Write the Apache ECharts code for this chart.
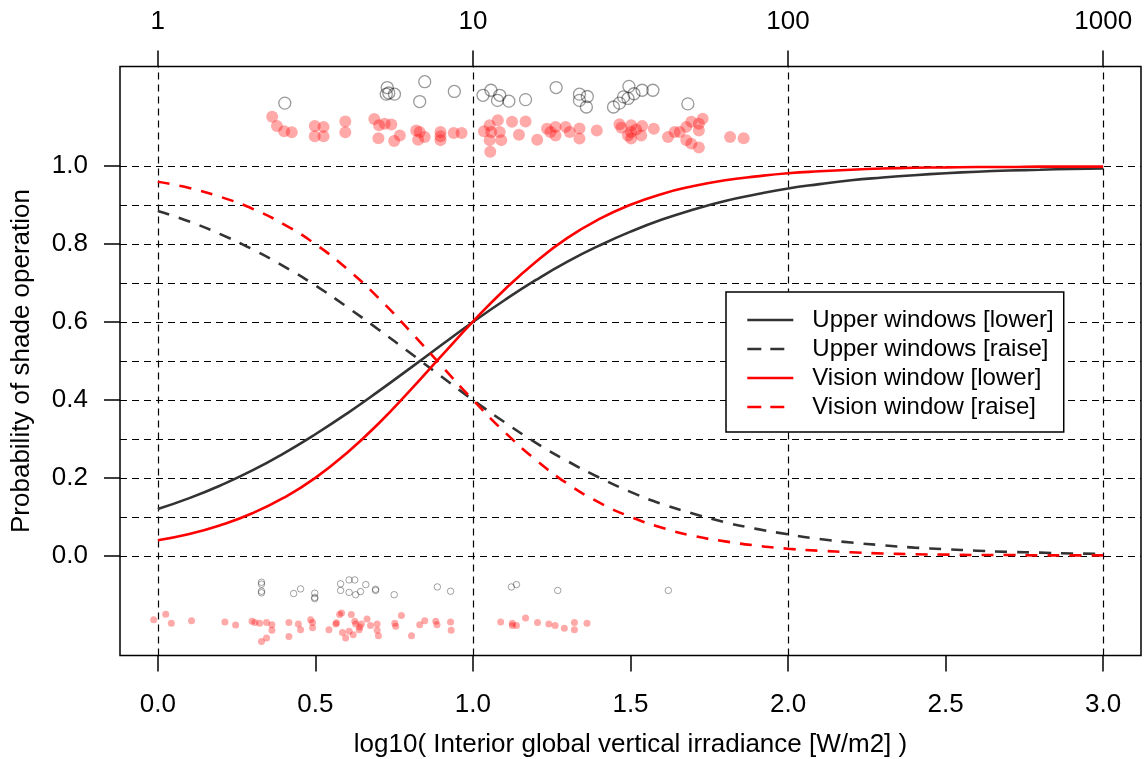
<!DOCTYPE html>
<html>
<head>
<meta charset="utf-8">
<script src="https://cdn.jsdelivr.net/npm/echarts@6/dist/echarts.min.js"></script>
<style>
html,body{margin:0;padding:0;background:#fff;}
#chart{width:1148px;height:759px;}
</style>
</head>
<body>
<div id="chart"></div>
<script>
// ---------- data ----------
const curveX = [0.0,0.1,0.2,0.3,0.4,0.5,0.6,0.7,0.8,0.9,1.0,1.1,1.2,1.3,1.4,1.5,1.6,1.7,1.8,1.9,2.0,2.1,2.2,2.3,2.4,2.5,2.6,2.7,2.8,2.9,3.0];
const upperLower = [0.120,0.148,0.181,0.219,0.263,0.312,0.365,0.422,0.481,0.541,0.600,0.656,0.708,0.755,0.796,0.832,0.863,0.889,0.911,0.928,0.943,0.954,0.964,0.971,0.977,0.982,0.986,0.989,0.991,0.993,0.994];
const upperRaise = [0.885,0.858,0.825,0.787,0.743,0.694,0.639,0.581,0.521,0.460,0.400,0.343,0.290,0.243,0.201,0.164,0.133,0.108,0.086,0.069,0.055,0.043,0.034,0.027,0.021,0.017,0.013,0.010,0.008,0.006,0.005];
const visionLower = [0.040,0.056,0.079,0.109,0.149,0.200,0.264,0.339,0.424,0.513,0.601,0.683,0.755,0.816,0.864,0.901,0.929,0.949,0.964,0.974,0.982,0.987,0.991,0.994,0.996,0.997,0.998,0.998,0.999,0.999,0.999];
const visionRaise = [0.960,0.944,0.921,0.891,0.851,0.800,0.737,0.662,0.577,0.488,0.400,0.318,0.246,0.185,0.137,0.100,0.072,0.051,0.037,0.026,0.018,0.013,0.009,0.006,0.004,0.003,0.002,0.002,0.001,0.001,0.001];

const topGrayX = [0.403,0.728,0.733,0.725,0.751,0.847,0.831,0.941,1.032,1.057,1.078,1.085,1.114,1.167,1.264,1.338,1.363,1.338,1.360,1.446,1.465,1.478,1.495,1.492,1.511,1.537,1.571,1.682];
const topGrayY = [1.162,1.202,1.188,1.185,1.185,1.217,1.166,1.192,1.182,1.195,1.169,1.182,1.167,1.171,1.202,1.185,1.179,1.169,1.152,1.152,1.162,1.178,1.205,1.174,1.186,1.195,1.195,1.160];

const topRedX = [0.363,0.378,0.401,0.425,0.498,0.526,0.498,0.526,0.595,0.595,0.687,0.702,0.720,0.741,0.700,0.750,0.768,0.820,0.831,0.826,0.847,0.897,0.897,0.897,0.939,0.964,1.035,1.053,1.058,1.053,1.055,1.079,1.085,1.090,1.124,1.167,1.146,1.204,1.235,1.246,1.262,1.262,1.294,1.307,1.338,1.338,1.393,1.465,1.471,1.502,1.502,1.502,1.492,1.518,1.537,1.534,1.574,1.619,1.640,1.656,1.677,1.693,1.677,1.693,1.717,1.717,1.729,1.717,1.816,1.859];
const topRedY = [1.127,1.103,1.090,1.087,1.103,1.101,1.077,1.077,1.115,1.087,1.121,1.105,1.109,1.107,1.072,1.065,1.079,1.092,1.088,1.068,1.075,1.088,1.077,1.067,1.085,1.085,1.090,1.105,1.088,1.067,1.037,1.118,1.088,1.067,1.114,1.115,1.081,1.068,1.096,1.088,1.101,1.079,1.101,1.088,1.097,1.071,1.092,1.108,1.099,1.105,1.088,1.071,1.079,1.094,1.103,1.079,1.096,1.075,1.088,1.088,1.101,1.114,1.067,1.058,1.048,1.092,1.122,1.109,1.075,1.072];

const botGrayX = [0.329,0.329,0.329,0.329,0.431,0.453,0.498,0.498,0.498,0.580,0.580,0.607,0.625,0.607,0.628,0.643,0.660,0.691,0.691,0.750,0.887,0.929,1.122,1.138,1.269,1.620];
const botGrayY = [-0.068,-0.073,-0.091,-0.095,-0.097,-0.085,-0.096,-0.107,-0.110,-0.072,-0.089,-0.062,-0.062,-0.094,-0.100,-0.092,-0.074,-0.086,-0.089,-0.100,-0.080,-0.091,-0.080,-0.074,-0.089,-0.089];

const botRedX = [-0.013,0.025,0.043,0.107,0.213,0.247,0.299,0.308,0.323,0.345,0.362,0.362,0.329,0.345,0.416,0.416,0.446,0.453,0.485,0.491,0.491,0.543,0.565,0.567,0.577,0.583,0.586,0.596,0.607,0.614,0.625,0.628,0.620,0.639,0.641,0.646,0.664,0.675,0.696,0.696,0.700,0.752,0.755,0.773,0.805,0.831,0.847,0.882,0.886,0.929,0.931,1.088,1.125,1.125,1.138,1.167,1.205,1.241,1.261,1.290,1.322,1.322,1.362];
const botRedY = [-0.164,-0.150,-0.173,-0.167,-0.170,-0.178,-0.168,-0.171,-0.173,-0.171,-0.177,-0.191,-0.220,-0.211,-0.171,-0.207,-0.175,-0.190,-0.164,-0.171,-0.185,-0.190,-0.175,-0.172,-0.151,-0.147,-0.197,-0.211,-0.194,-0.151,-0.168,-0.175,-0.203,-0.190,-0.183,-0.175,-0.162,-0.179,-0.175,-0.191,-0.205,-0.173,-0.181,-0.153,-0.205,-0.177,-0.167,-0.168,-0.177,-0.170,-0.191,-0.170,-0.173,-0.179,-0.179,-0.160,-0.171,-0.175,-0.179,-0.186,-0.171,-0.190,-0.173];

const xTickValues = [0,0.5,1,1.5,2,2.5,3];
const yTickValues = [0,0.2,0.4,0.6,0.8,1.0];
const topTickValues = [0,1,2,3];
const topTickLabels = ['1','10','100','1000'];
const hGridValues = [0,0.1,0.2,0.3,0.4,0.5,0.6,0.7,0.8,0.9,1.0];
const vGridValues = [0,1,2,3];
const seriesNames = ['Upper windows [lower]','Upper windows [raise]','Vision window [lower]','Vision window [raise]'];
const seriesDashed = [false, true, false, true];

// ---------- chart ----------
const FONT = '"Liberation Sans", Arial, Helvetica, sans-serif';
const zip = (xs, ys) => xs.map((x, i) => [x, ys[i]]);
const chart = echarts.init(document.getElementById('chart'), null, {renderer: 'canvas'});

const lineSeries = (name, ys, color, dashed) => ({
  name: name, type: 'line', data: zip(curveX, ys),
  xAxisIndex: 0, yAxisIndex: 0,
  showSymbol: false, symbol: 'none', smooth: 0.5,
  lineStyle: {color: color, width: 2.6, type: dashed ? [12, 10] : 'solid'},
  itemStyle: {color: color},
  z: 4, silent: true
});

const axisBase = {
  axisLine: {show: false, onZero: false},
  splitLine: {show: false}
};

const option = {
  animation: false,
  backgroundColor: '#fff',
  textStyle: {fontFamily: FONT},
  grid: {left: 120, top: 66.5, width: 1021, height: 589, show: true,
         borderColor: '#000', borderWidth: 1.5, backgroundColor: 'transparent',
         outerBoundsMode: 'none', containLabel: false},
  xAxis: [
    Object.assign({}, axisBase, {type: 'value', position: 'bottom', min: -0.12, max: 3.12,
     axisTick: {show: true, inside: false, length: 16, customValues: xTickValues, lineStyle: {color: '#000', width: 1.5}},
     axisLabel: {show: true, customValues: xTickValues, margin: 36, fontSize: 26, color: '#000', fontFamily: FONT,
                 formatter: v => v.toFixed(1)},
     name: 'log10( Interior global vertical irradiance [W/m2] )', nameLocation: 'middle', nameGap: 76,
     nameTextStyle: {fontSize: 26, color: '#000', fontFamily: FONT}}),
    Object.assign({}, axisBase, {type: 'value', position: 'top', min: -0.12, max: 3.12,
     axisTick: {show: true, inside: false, length: 16, customValues: topTickValues, lineStyle: {color: '#000', width: 1.5}},
     axisLabel: {show: true, customValues: topTickValues, margin: 32, fontSize: 26, color: '#000', fontFamily: FONT,
                 formatter: v => topTickLabels[topTickValues.indexOf(Math.round(v))]}})
  ],
  yAxis: [
    Object.assign({}, axisBase, {type: 'value', min: -0.256, max: 1.256,
     axisTick: {show: true, inside: false, length: 16, customValues: yTickValues, lineStyle: {color: '#000', width: 1.5}},
     axisLabel: {show: true, customValues: yTickValues, margin: 32, fontSize: 26, color: '#000', fontFamily: FONT,
                 formatter: v => v.toFixed(1)},
     name: 'Probability of shade operation', nameLocation: 'middle', nameGap: 85, nameRotate: 90,
     nameTextStyle: {fontSize: 26, color: '#000', fontFamily: FONT}})
  ],
  legend: {
    data: seriesNames.map((n, i) => seriesDashed[i] ? {name: n, lineStyle: {type: [14, 9]}} : {name: n}),
    orient: 'vertical', left: 726, top: 292, z: 100, zlevel: 0,
    backgroundColor: '#fff', borderColor: '#000', borderWidth: 1.5,
    padding: [16, 10, 13, 20], itemWidth: 46, itemHeight: 14, itemGap: 5,
    itemStyle: {color: 'rgba(0,0,0,0)', borderColor: 'rgba(0,0,0,0)', borderWidth: 0, opacity: 0},
    lineStyle: {width: 2.6},
    textStyle: {fontSize: 24, color: '#000', fontFamily: FONT, padding: [0, 0, 0, 14]},
    selectedMode: false
  },
  series: [
    {name: 'grid', type: 'line', data: [], z: 1, silent: true,
     markLine: {silent: true, symbol: ['none', 'none'], label: {show: false}, animation: false, z: 1,
       lineStyle: {color: '#000', type: [7, 5], width: 1.2},
       emphasis: {disabled: true},
       data: hGridValues.map(v => ({yAxis: v})).concat(vGridValues.map(v => ({xAxis: v})))}},
    {name: 'Upper windows events', type: 'scatter', data: zip(topGrayX, topGrayY), symbolSize: 12, z: 3, silent: true,
     itemStyle: {color: 'rgba(255,255,255,0)', borderColor: 'rgba(0,0,0,0.5)', borderWidth: 1.3}},
    {name: 'Vision window events', type: 'scatter', data: zip(topRedX, topRedY), symbolSize: 12, z: 3, silent: true,
     itemStyle: {color: 'rgba(255,0,0,0.42)', borderWidth: 0}},
    {name: 'Upper windows non-events', type: 'scatter', data: zip(botGrayX, botGrayY), symbolSize: 6.5, z: 3, silent: true,
     itemStyle: {color: 'rgba(255,255,255,0)', borderColor: 'rgba(0,0,0,0.45)', borderWidth: 1}},
    {name: 'Vision window non-events', type: 'scatter', data: zip(botRedX, botRedY), symbolSize: 7, z: 3, silent: true,
     itemStyle: {color: 'rgba(255,0,0,0.42)', borderWidth: 0}},
    lineSeries(seriesNames[0], upperLower, '#333333', seriesDashed[0]),
    lineSeries(seriesNames[1], upperRaise, '#333333', seriesDashed[1]),
    lineSeries(seriesNames[2], visionLower, '#ff0000', seriesDashed[2]),
    lineSeries(seriesNames[3], visionRaise, '#ff0000', seriesDashed[3])
  ]
};
chart.setOption(option);
</script>
</body>
</html>
